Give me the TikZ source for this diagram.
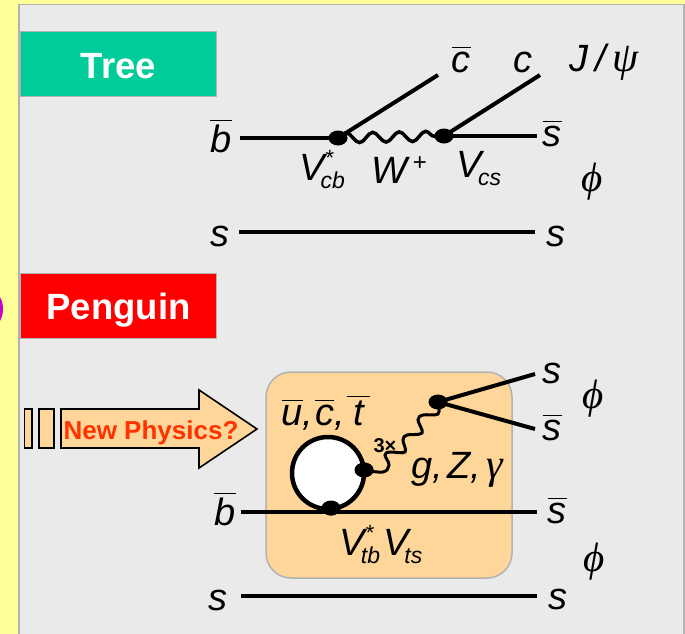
\documentclass[tikz,border=0pt]{standalone}
\usepackage{fontspec}
\setmainfont{Liberation Sans}
\newfontfamily\grk{Liberation Serif}
\usetikzlibrary{positioning,shapes.geometric,decorations.pathmorphing}
\definecolor{sarga}{HTML}{FFFF99}
\definecolor{panel}{HTML}{EAEAEA}
\definecolor{keret}{HTML}{B2B2B2}
\definecolor{zold}{HTML}{00CC99}
\definecolor{narancs}{HTML}{FFD699}
\definecolor{feliratszin}{HTML}{FF3300}
\definecolor{lila}{HTML}{CC00CC}
\newcommand{\fs}[1]{\fontsize{#1}{#1}\selectfont}
\newcommand{\barq}[1]{\vbox{\hrule height 0.8pt\kern 4pt\hbox{#1}}}
\newcommand{\ckm}[3]{\textit{V}\rlap{\raisebox{15pt}{\fs{22}\normalfont\kern1pt #2}}\kern-4pt\raisebox{-8pt}{\fs{23}\textit{#3}}}
\tikzset{
  lab/.style={anchor=base,inner sep=0pt,font=\fs{38}\itshape},
  nagy/.style={lab,font=\fs{41}\itshape},
  cim/.style={draw=keret,line width=1.5pt,minimum width=196pt,minimum height=65pt,
    text=white,font=\fs{36.5}\bfseries,inner sep=0pt},
  pont/.style={ellipse,fill=black,minimum width=19pt,minimum height=15pt,inner sep=0pt},
  vonal/.style={line width=4pt},
  hullam/.style={line width=3.5pt,decorate},
  nyil/.style={draw=black,fill=narancs,line width=1.6pt},
}
\begin{document}
\begin{tikzpicture}[x=1pt,y=-1pt]
  \clip (0,0) rectangle (685,634);
  \fill[sarga] (0,0) rectangle (685,634);
  \draw[fill=panel,draw=keret,line width=1.8pt] (19,4.5) rectangle (684,645);
  \fill[lila] (-6,309) ellipse (9 and 16);
  \node[cim,fill=zold] (tree) at (118.5,64) {\raisebox{-14pt}[0pt][0pt]{Tree}};
  \node[cim,fill=red] (penguin) at (118.5,306) {\raisebox{-13pt}[0pt][0pt]{Penguin}};

  \node[pont] (vcb) at (338,138) {};
  \node[pont] (vcs) at (444,136) {};
  \coordinate (bbe) at (240,138);
  \coordinate (cbki) at (438,75);
  \coordinate (cki) at (540,75);
  \coordinate (ski) at (537,136);
  \coordinate (sbe) at (239,232);
  \coordinate (ski2) at (535,232);
  \draw[vonal] (bbe) -- (vcb.center);
  \draw[vonal] (vcb.center) -- (cbki);
  \draw[vonal] (vcs.center) -- (cki);
  \draw[vonal] (vcs.center) -- (ski);
  \draw[vonal] (sbe) -- (ski2);
  \draw[hullam,decoration={snake,segment length=26.5pt,amplitude=5pt}] (vcb.center) -- (vcs.center);
  \node[lab] (b1) at (221,152) {\barq{b}};
  \node[lab] (s1) at (220,246) {s};
  \node[lab] (cb1) at (461,72) {\barq{c}};
  \node[lab] (c1) at (523,72) {c};
  \node[lab] (jpsi) at (604,71) {J\,/\,{\grk\fs{42}ψ}};
  \node[lab] (sb1) at (552,146) {\barq{s}};
  \node[nagy] (phi1) at (592,191) {\grk ϕ};
  \node[lab] (s2) at (556,246) {s};
  \node[lab] (vcbl) at (322,180) {\ckm{V}{*}{cb}};
  \node[lab] (wl) at (399,183) {W\kern6pt\raisebox{13pt}{\fs{24}\normalfont +}};
  \node[lab] (vcsl) at (479,177) {\ckm{V}{}{cs}};

  \draw[fill=narancs,draw=keret,line width=1.5pt,rounded corners=25pt] (266,372) rectangle (512,578);
  \draw[nyil] (24.5,409) rectangle (32,448);
  \draw[nyil] (39,409) rectangle (54,448);
  \draw[nyil] (61,409) -- (199,409) -- (199,390) -- (257,429) -- (199,468) -- (199,448) -- (61,448) -- cycle;
  \node[anchor=base,inner sep=0pt,text=feliratszin,font=\fs{26}\bfseries] (np) at (151,439) {New Physics?};

  \node[pont] (vtb) at (331,508) {};
  \node[pont] (hurok) at (364,470) {};
  \node[pont] (gs) at (438,402) {};
  \draw[line width=4.5pt,fill=white] (328,473) circle (36);
  \node[pont] at (vtb) {};
  \node[pont] at (hurok) {};
  \coordinate (bbe2) at (241,512);
  \coordinate (ski3) at (537,512);
  \coordinate (sbe2) at (241,596);
  \coordinate (ski4) at (537,596);
  \coordinate (sa) at (535,374);
  \coordinate (sb) at (535,429);
  \draw[vonal] (bbe2) -- (ski3);
  \draw[vonal] (sbe2) -- (ski4);
  \draw[vonal] (gs.center) -- (sa);
  \draw[vonal] (gs.center) -- (sb);
  \draw[line width=3pt] plot[smooth,tension=0.6] coordinates {(hurok.center) (383,472) (389,465) (385,455) (390,452) (405,452) (403,440) (407,435) (422,433) (418,420) (423,415) (438,414) (gs.center)};
  \node[lab] (s3) at (552,383) {s};
  \node[lab] (sb3) at (552,440) {\barq{s}};
  \node[nagy] (phi2) at (593,408) {\grk ϕ};
  \node[lab] (sb4) at (557,523) {\barq{s}};
  \node[nagy] (phi3) at (594,571) {\grk ϕ};
  \node[lab] (s4) at (558,609) {s};
  \node[lab] (s5) at (218,610) {s};
  \node[lab] (b2) at (225,525) {\barq{b}};
  \node[lab] (ucb) at (326,425) {\barq{u},\kern2pt\barq{c},\kern2pt\barq{\,t\,}};
  \node[lab] (gzg) at (457,478) {g,\kern5pt Z,\kern5pt{\grk\fs{42}γ}};
  \node[lab] (vv) at (381,555) {\ckm{V}{*}{tb}\kern3pt\ckm{V}{}{ts}};
  \node[lab,font=\fs{20}\bfseries] (harom) at (385,452) {3×};
\end{tikzpicture}
\end{document}
